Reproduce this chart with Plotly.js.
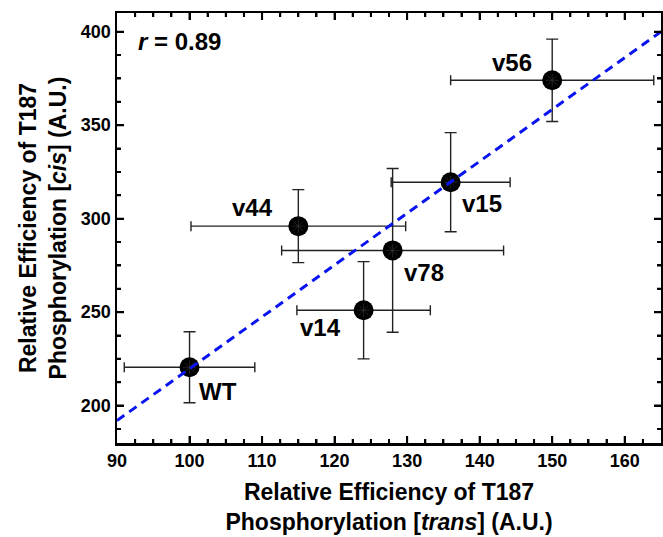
<!DOCTYPE html>
<html>
<head>
<meta charset="utf-8">
<script src="https://cdn.plot.ly/plotly-3.0.1.min.js"></script>
<style>html,body{margin:0;padding:0;background:#fff;}#chart{width:663px;height:537px;}</style>
</head>
<body>
<div id="chart"></div>
<script>
// Data
var variants = ["WT", "v14", "v78", "v44", "v15", "v56"];
var transEff = [100, 124, 128, 115, 136, 150];
var cisEff = [220.5, 251, 283, 296, 319.5, 374];
var transErr = [9, 9.2, 15.3, 14.8, 8.2, 14];
var cisErr = [19, 26, 43.8, 19.5, 26.5, 22];
var fitX = [90, 165];
var fitY = [192, 400];
var rLabel = "<i>r</i> = 0.89";

// Label placement offsets (pixels) relative to each point
var labelOffsets = {
  "WT": [28, -24], "v14": [-43, -17], "v78": [31, -22],
  "v44": [-46, 19], "v15": [31, -21], "v56": [-40, 18]
};

var boldFont = "Arial";

var points = {
  x: transEff, y: cisEff, mode: "markers", type: "scatter",
  marker: {color: "#000", size: 20},
  error_x: {type: "data", array: transErr, visible: true, color: "#222", thickness: 1.4, width: 5},
  error_y: {type: "data", array: cisErr, visible: true, color: "#222", thickness: 1.4, width: 6},
  showlegend: false
};
var texture = {
  x: transEff, y: cisEff, mode: "markers", type: "scatter",
  marker: {symbol: "asterisk-open", size: 11, color: "#3a3a3a", line: {width: 0.6, color: "#3a3a3a"}},
  showlegend: false
};
var fit = {
  x: fitX, y: fitY, mode: "lines", type: "scatter",
  line: {color: "#0a14f0", width: 3, dash: "9px,6px"},
  showlegend: false
};

var annotations = variants.map(function (v, i) {
  return {
    x: transEff[i], y: cisEff[i], xref: "x", yref: "y", text: "<b>" + v + "</b>",
    showarrow: false, xanchor: "center", yanchor: "middle",
    xshift: labelOffsets[v][0], yshift: labelOffsets[v][1],
    font: {family: boldFont, size: 24, color: "#000"}
  };
});
annotations.push({
  x: 0.035, y: 0.933, xref: "paper", yref: "paper", text: "<b>" + rLabel + "</b>",
  showarrow: false, xanchor: "left", yanchor: "middle",
  font: {family: boldFont, size: 24, color: "#000"}
});

function axisBase() {
  return {
    showline: true, linecolor: "#000", linewidth: 2.5, mirror: "ticks",
    ticks: "inside", ticklen: 7, tickwidth: 2, tickcolor: "#000",
    showgrid: false, zeroline: false, automargin: false, layer: "above traces",
    tickfont: {family: boldFont, size: 18, color: "#000", weight: "bold"}
  };
}

var xaxis = axisBase();
xaxis.range = [90, 165];
xaxis.dtick = 10;
xaxis.minor = {dtick: 2.5, ticks: "inside", ticklen: 4};
xaxis.title = {text: "<b>Relative Efficiency of T187<br>Phosphorylation [<i>trans</i>] (A.U.)</b>",
  font: {family: boldFont, size: 23, color: "#000"}, standoff: 14};

var yaxis = axisBase();
yaxis.range = [180, 410];
yaxis.dtick = 50;
yaxis.minor = {dtick: 12.5, ticks: "inside", ticklen: 4};
yaxis.title = {text: "<b>Relative Efficiency of T187<br>Phosphorylation [<i>cis</i>] (A.U.)</b>",
  font: {family: boldFont, size: 23, color: "#000"}, standoff: 8};

var layout = {
  width: 663, height: 537,
  margin: {l: 117, r: 2, t: 13, b: 94},
  xaxis: xaxis, yaxis: yaxis,
  annotations: annotations,
  showlegend: false
};

Plotly.newPlot("chart", [points, texture, fit], layout, {displayModeBar: false, staticPlot: true}).then(function () {
  // Re-stamp Plotly's own tick paths on the topmost svg so they are never hidden
  var svgs = document.querySelectorAll("#chart svg.main-svg");
  var top = svgs[svgs.length - 1];
  var g = document.createElementNS("http://www.w3.org/2000/svg", "g");
  document.querySelectorAll("#chart path.xtick, #chart path.ytick").forEach(function (p) {
    var m = p.getCTM();
    var c = document.createElementNS("http://www.w3.org/2000/svg", "path");
    c.setAttribute("d", p.getAttribute("d"));
    if (m) c.setAttribute("transform", "matrix(" + [m.a, m.b, m.c, m.d, m.e, m.f].join(",") + ")");
    var sw = parseFloat(getComputedStyle(p).strokeWidth) || 2;
    c.setAttribute("stroke", "#000");
    c.setAttribute("stroke-width", String(sw));
    c.setAttribute("fill", "none");
    g.appendChild(c);
  });
  top.appendChild(g);
});
</script>
</body>
</html>
